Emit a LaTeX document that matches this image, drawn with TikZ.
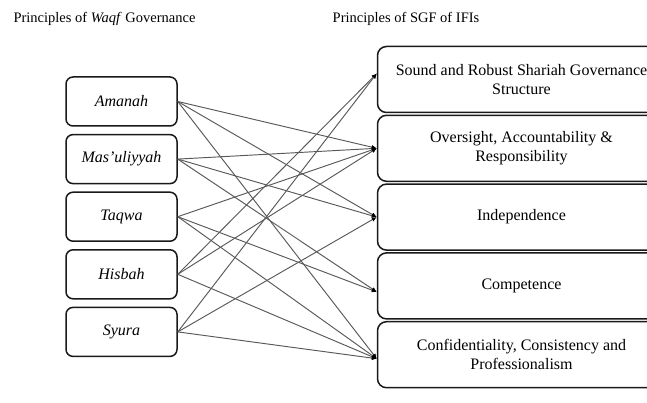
\documentclass[tikz,border=0pt]{standalone}
\usepackage{fontspec}
\setmainfont{Liberation Serif}
\usetikzlibrary{arrows.meta}

\begin{document}
\begin{tikzpicture}[x=1pt,y=-1pt,
  heading/.style={font=\fontsize{14.5}{17}\selectfont},
  waqf/.style={draw=black!90,line width=1.5pt,rounded corners=7pt,
    minimum width=111pt,minimum height=49pt,inner sep=0pt,
    font=\fontsize{16}{18}\selectfont\itshape},
  sgf/.style={draw=black!90,line width=1.5pt,rounded corners=9pt,
    minimum width=288pt,minimum height=66pt,inner sep=0pt,align=center,
    font=\fontsize{16}{19}\selectfont},
  link/.style={draw=black!65,line width=0.95pt,-{Latex[length=5pt,width=4.5pt,black]}}]
\useasboundingbox (0,0) rectangle (647,403);
\clip (0,0) rectangle (647,403);

\node[heading] (h1) at (104.5,19) {Principles of \textit{Waqf} Governance};
\node[heading] (h2) at (406,19) {Principles of SGF of IFIs};

% waqf principles
\foreach \name [count=\i] in {Amanah,Mas'uliyyah,Taqwa,Hisbah,Syura}
	{
	\node[waqf] (w\i) at (121.5,{101.5+57.6*(\i-1)}) {\name};
	}

% SGF principles
\node[sgf] (s1) at (521.5,79.5) {Sound and Robust Shariah Governance\\Structure};
\node[sgf] (s2) at (521.5,148.3) {Oversight, Accountability \&\\Responsibility};
\node[sgf] (s3) at (521.5,217.1) {Independence};
\node[sgf] (s4) at (521.5,285.9) {Competence};
\node[sgf] (s5) at (521.5,354.7) {Confidentiality, Consistency and\\Professionalism};

% arrival points
\coordinate (in1) at ([yshift=6pt]s1.west);
\coordinate (in2) at (s2.west);
\coordinate (in3) at (s3.west);
\coordinate (in4) at ([yshift=-6pt]s4.west);
\coordinate (in5) at ([yshift=-4pt]s5.west);

\foreach \a/\b in {1/2,1/3,1/5,2/2,2/3,2/4,3/2,3/4,3/5,4/1,4/2,4/5,5/1,5/3,5/5}
	{
	\draw[link] (w\a.east) -- (in\b);
	}
\end{tikzpicture}
\end{document}
